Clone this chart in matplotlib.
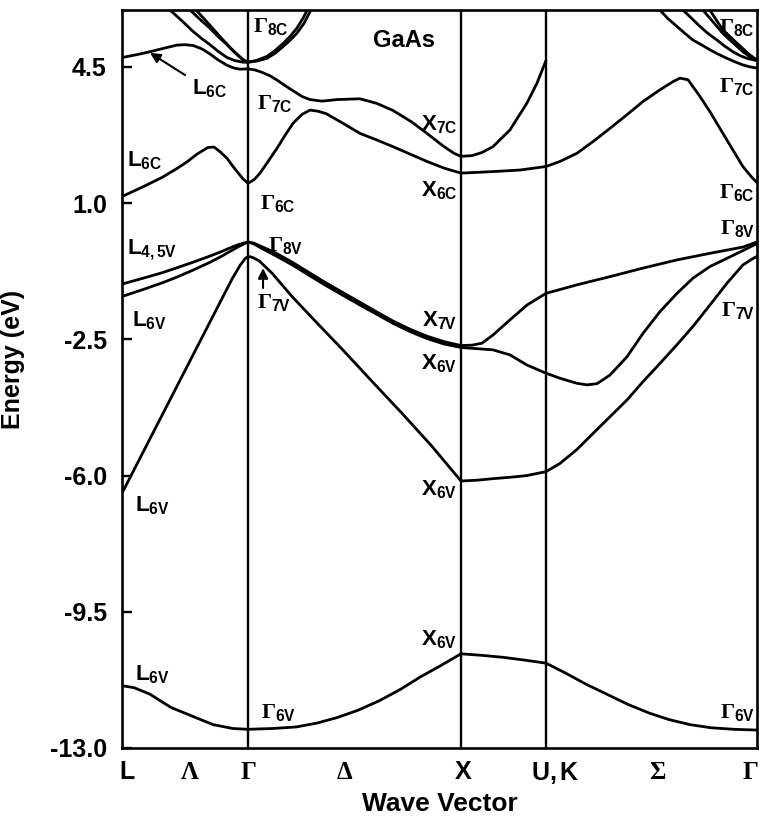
import numpy as np
import matplotlib.pyplot as plt

plt.rcParams['font.family'] = ['Liberation Sans', 'DejaVu Sans']
plt.rcParams['font.weight'] = 'bold'
plt.rcParams['mathtext.fontset'] = 'custom'
plt.rcParams['mathtext.rm'] = 'Liberation Serif'
plt.rcParams['mathtext.it'] = 'Liberation Serif:italic'
plt.rcParams['mathtext.bf'] = 'Liberation Sans:bold'
plt.rcParams['mathtext.sf'] = 'Liberation Sans:bold'

# === K-PATH ===
# symmetry points L, Gamma, X, U/K, Gamma (path units as drawn)
k_sym = [0, 126, 339, 424, 635]
tick_pos = [5.6, 68, 126, 223, 341, 433, 536, 628]
tick_lab = [r'$\mathbf{L}$', r'$\Lambda$', r'$\Gamma$', r'$\Delta$',
            r'$\mathbf{X}$', r'$\mathbf{U,K}$', r'$\Sigma$', r'$\Gamma$']
e_ticks = [4.5, 1.0, -2.5, -6.0, -9.5, -13.0]

# === BANDS (energies in eV) ===
# lowest valence band (Gamma6V)
k_v1 = [0, 12, 28, 49, 70, 91, 111, 126, 150, 174, 195, 215, 236, 257, 278, 298,
        319, 339, 360, 381, 402, 424, 444, 464, 485, 506, 527, 547, 568, 589, 612, 635]
e_v1 = [-11.40, -11.45, -11.62, -11.96, -12.18, -12.40, -12.50, -12.52, -12.50, -12.46,
        -12.36, -12.22, -12.03, -11.79, -11.50, -11.18, -10.88, -10.58, -10.62, -10.67,
        -10.74, -10.82, -11.08, -11.36, -11.62, -11.88, -12.10, -12.27, -12.40, -12.48,
        -12.52, -12.54]

# split-off like band (L6V -> Gamma7V -> X6V -> Gamma7V)
k_v2 = [0, 10, 30, 60, 90, 110, 118, 123, 126, 130, 137, 150, 170, 195, 220, 250, 280,
        310, 339, 355, 371, 390, 405, 424, 438, 455, 471, 488, 505, 521, 538, 555, 571,
        588, 605, 621, 630, 635]
e_v2 = [-6.45, -5.95, -4.95, -3.45, -1.95, -0.95, -0.60, -0.43, -0.37, -0.39, -0.48,
        -0.80, -1.40, -2.08, -2.75, -3.58, -4.40, -5.25, -6.14, -6.12, -6.08, -6.04,
        -6.00, -5.90, -5.69, -5.33, -4.92, -4.49, -4.06, -3.59, -3.12, -2.64, -2.17,
        -1.62, -1.06, -0.59, -0.44, -0.37]

# heavy hole (L4,5V -> Gamma8V -> X -> U,K -> Gamma8V)
k_v3 = [0, 21, 40, 55, 72, 88, 100, 108, 115, 120, 126, 132, 138, 146, 155, 171, 188,
        204, 221, 238, 255, 271, 288, 305, 322, 339, 350, 360, 371, 388, 405, 424, 455,
        488, 521, 555, 588, 621, 635]
e_v3 = [-1.08, -0.93, -0.79, -0.66, -0.51, -0.36, -0.24, -0.15, -0.08, -0.04, 0.0,
        -0.03, -0.10, -0.19, -0.30, -0.53, -0.80, -1.05, -1.30, -1.55, -1.80, -2.03,
        -2.24, -2.42, -2.56, -2.66, -2.65, -2.60, -2.39, -2.00, -1.62, -1.32, -1.10,
        -0.89, -0.67, -0.46, -0.29, -0.13, 0.0]

# light hole (L6V -> Gamma8V -> X -> dip -> Gamma8V)
k_v4 = [0, 21, 40, 55, 72, 88, 100, 108, 115, 120, 126, 132, 138, 146, 155, 171, 188,
        204, 221, 238, 255, 271, 288, 305, 322, 339, 355, 371, 388, 405, 424, 438, 455,
        465, 475, 488, 505, 521, 538, 555, 571, 588, 605, 621, 635]
e_v4 = [-1.40, -1.22, -1.05, -0.90, -0.71, -0.52, -0.36, -0.24, -0.14, -0.07, 0.0,
        -0.05, -0.14, -0.25, -0.37, -0.60, -0.87, -1.12, -1.37, -1.62, -1.86, -2.09,
        -2.30, -2.48, -2.62, -2.71, -2.74, -2.77, -2.90, -3.16, -3.37, -3.50, -3.63,
        -3.67, -3.64, -3.42, -2.95, -2.35, -1.79, -1.32, -0.93, -0.63, -0.42, -0.22,
        -0.04]

# lowest conduction band (L6C -> Gamma6C -> X6C -> U,K -> Gamma6C)
k_c1 = [0, 21, 40, 55, 65, 75, 86, 92, 98, 105, 111, 116, 121, 126, 132, 138, 146, 155,
        163, 171, 180, 188, 196, 204, 221, 238, 255, 271, 288, 305, 322, 339, 355, 371,
        398, 424, 438, 455, 471, 488, 505, 521, 538, 551, 558, 566, 577, 588, 605, 621,
        630, 635]
e_c1 = [1.17, 1.42, 1.66, 1.89, 2.06, 2.26, 2.43, 2.44, 2.32, 2.15, 1.94, 1.78, 1.62,
        1.51, 1.60, 1.77, 2.07, 2.41, 2.74, 3.05, 3.28, 3.39, 3.36, 3.30, 3.05, 2.79,
        2.62, 2.45, 2.26, 2.07, 1.90, 1.77, 1.79, 1.81, 1.85, 1.94, 2.07, 2.28, 2.58,
        2.92, 3.27, 3.61, 3.91, 4.12, 4.21, 4.17, 3.78, 3.35, 2.62, 1.94, 1.66, 1.53]

# second conduction band (L6C -> Gamma7C -> X7C -> U,K)
k_c2 = [0, 14, 28, 42, 55, 63, 71, 80, 88, 96, 105, 112, 118, 126, 133, 140, 148, 155,
        163, 172, 180, 188, 200, 215, 238, 255, 271, 290, 305, 321, 332, 339, 350, 360,
        371, 388, 405, 415, 424]
e_c2 = [4.74, 4.81, 4.89, 4.98, 5.06, 5.07, 5.05, 4.96, 4.83, 4.68, 4.54, 4.47, 4.44,
        4.45, 4.42, 4.36, 4.27, 4.16, 4.02, 3.87, 3.74, 3.66, 3.62, 3.66, 3.68, 3.56,
        3.38, 3.08, 2.79, 2.47, 2.28, 2.20, 2.22, 2.30, 2.45, 2.88, 3.57, 4.08, 4.66]

# Gamma8C bowl near the left Gamma
k_c3 = [48, 60, 71, 80, 88, 96, 105, 113, 121, 126, 135, 145, 153, 161, 168, 175, 182, 188, 192]
e_c3 = [5.96, 5.68, 5.41, 5.22, 5.07, 4.90, 4.74, 4.66, 4.62, 4.62, 4.65, 4.72, 4.85,
        5.02, 5.18, 5.37, 5.62, 5.92, 6.10]
k_c4 = [68, 78, 88, 96, 105, 113, 121, 126, 135, 145, 153, 161, 168, 175, 181, 186]
e_c4 = [5.96, 5.72, 5.49, 5.28, 5.07, 4.86, 4.68, 4.62, 4.67, 4.77, 4.92, 5.10, 5.28,
        5.50, 5.75, 6.00]
k_c5 = [74, 84, 92, 100, 108, 116, 122, 126]
e_c5 = [5.96, 5.68, 5.45, 5.22, 5.00, 4.80, 4.67, 4.62]

# upper conduction bands near the right Gamma
k_r1 = [538, 546, 555, 563, 571, 580, 588, 596, 605, 613, 621, 628, 635]
e_r1 = [5.96, 5.74, 5.54, 5.36, 5.19, 5.06, 4.94, 4.83, 4.72, 4.63, 4.55, 4.50, 4.47]
k_r2 = [561, 570, 578, 586, 595, 603, 611, 618, 625, 635]
e_r2 = [5.96, 5.74, 5.54, 5.36, 5.19, 5.03, 4.89, 4.79, 4.72, 4.66]
k_r3 = [581, 588, 595, 601, 608, 615, 621, 628, 635]
e_r3 = [5.96, 5.75, 5.54, 5.36, 5.19, 5.03, 4.89, 4.76, 4.66]
k_r4 = [588, 594, 601, 608, 615, 621, 626, 631, 635]
e_r4 = [5.96, 5.72, 5.45, 5.28, 5.11, 4.97, 4.85, 4.75, 4.68]

bands = [(k_v1, e_v1), (k_v2, e_v2), (k_v3, e_v3), (k_v4, e_v4),
         (k_c1, e_c1), (k_c2, e_c2), (k_c3, e_c3), (k_c4, e_c4), (k_c5, e_c5),
         (k_r1, e_r1), (k_r2, e_r2), (k_r3, e_r3), (k_r4, e_r4)]

# point labels: text, k, energy, alignment
point_labels = [
    (r'$\Gamma_{\mathbf{8C}}$', 131, 5.53, 'left'),
    (r'$\mathbf{L}_{\mathbf{6C}}$', 70, 3.96, 'left'),
    (r'$\Gamma_{\mathbf{7C}}$', 135, 3.55, 'left'),
    (r'$\mathbf{L}_{\mathbf{6C}}$', 5, 2.11, 'left'),
    (r'$\Gamma_{\mathbf{6C}}$', 138, 1.0, 'left'),
    (r'$\Gamma_{\mathbf{8V}}$', 146, -0.1, 'left'),
    (r'$\mathbf{L}_{\mathbf{4,5V}}$', 5, -0.2, 'left'),
    (r'$\mathbf{L}_{\mathbf{6V}}$', 10, -2.0, 'left'),
    (r'$\Gamma_{\mathbf{7V}}$', 135, -1.55, 'left'),
    (r'$\mathbf{X}_{\mathbf{7C}}$', 335, 3.04, 'right'),
    (r'$\mathbf{X}_{\mathbf{6C}}$', 335, 1.34, 'right'),
    (r'$\Gamma_{\mathbf{8C}}$', 633, 5.5, 'right'),
    (r'$\Gamma_{\mathbf{7C}}$', 633, 3.99, 'right'),
    (r'$\Gamma_{\mathbf{6C}}$', 633, 1.26, 'right'),
    (r'$\Gamma_{\mathbf{8V}}$', 633, 0.35, 'right'),
    (r'$\Gamma_{\mathbf{7V}}$', 633, -1.75, 'right'),
    (r'$\mathbf{X}_{\mathbf{7V}}$', 335, -2.0, 'right'),
    (r'$\mathbf{X}_{\mathbf{6V}}$', 335, -3.1, 'right'),
    (r'$\mathbf{X}_{\mathbf{6V}}$', 335, -6.35, 'right'),
    (r'$\mathbf{X}_{\mathbf{6V}}$', 335, -10.2, 'right'),
    (r'$\mathbf{L}_{\mathbf{6V}}$', 13, -6.76, 'left'),
    (r'$\mathbf{L}_{\mathbf{6V}}$', 13, -11.1, 'left'),
    (r'$\Gamma_{\mathbf{6V}}$', 139, -12.1, 'left'),
    (r'$\Gamma_{\mathbf{6V}}$', 633, -12.08, 'right'),
]

# === VISUALIZATION ===
fig = plt.figure(figsize=(7.63, 8.31), dpi=100)
ax = fig.add_axes([0.160, 0.0999, 0.832, 0.888])

for k, e in bands:
    ax.plot(k, e, color='black', lw=2.0, solid_capstyle='round', solid_joinstyle='round')

for k in k_sym[1:-1]:
    ax.axvline(k, color='black', lw=1.7)

for txt, k, e, ha in point_labels:
    ax.text(k, e, txt, ha=ha, va='center', fontsize=16)

ax.text(282, 5.19, 'GaAs', ha='center', va='center', fontsize=17, fontweight='bold')

arrow = dict(arrowstyle='-|>', color='black', lw=1.5, mutation_scale=15, shrinkA=0, shrinkB=0)
ax.annotate('', xy=(28, 4.86), xytext=(63, 4.29), arrowprops=arrow)
ax.annotate('', xy=(141, -0.67), xytext=(141, -1.18), arrowprops=arrow)

ax.set_xlim(k_sym[0], k_sym[-1])
ax.set_ylim(-13.0, 5.96)
ax.set_xticks(tick_pos, tick_lab)
ax.set_yticks(e_ticks, ['%.1f' % v for v in e_ticks])
ax.tick_params(axis='x', length=0, pad=9, labelsize=18)
ax.tick_params(axis='y', direction='in', length=7, width=1.7, pad=11, labelsize=18)
for s in ax.spines.values():
    s.set_linewidth(1.9)

ax.set_xlabel('Wave Vector', fontsize=19, fontweight='bold', labelpad=4)
ax.set_ylabel('Energy (eV)', fontsize=18, fontweight='bold')
ax.yaxis.set_label_coords(-0.153, 0.526)

fig.savefig('out.png', dpi=100)
